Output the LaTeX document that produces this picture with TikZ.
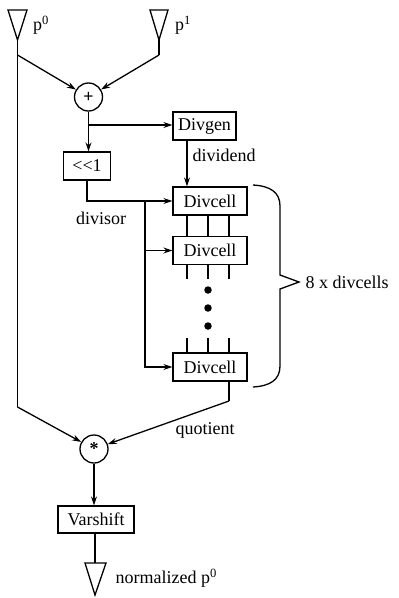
\documentclass[tikz,border=0pt]{standalone}
\usepackage{fontspec}
\setmainfont{Liberation Serif}
\usetikzlibrary{arrows.meta,calc}
\begin{document}
\begin{tikzpicture}[x=1pt,y=-1pt,
  line width=1.3pt,
  every node/.style={font=\fontsize{18}{21}\selectfont},
  box/.style={draw,inner sep=0pt,minimum height=28pt},
  ring/.style={draw,circle,inner sep=0pt,minimum size=28pt},
  arr/.style={-{Stealth[length=9pt,width=6pt]}},
  dotnode/.style={circle,fill,inner sep=0pt,minimum size=7.5pt},
  lbl/.style={inner sep=0pt}]
\useasboundingbox (0,0) rectangle (399,598);
% input triangles
\draw (8,10) -- (27,10) -- (17.5,40) -- cycle;
\draw (150,10) -- (168,10) -- (159,40) -- cycle;
\coordinate (p0) at (17.5,40);
\coordinate (p1) at (159,40);
\node[lbl] (lp0) at (41,25) {p\textsuperscript{0}};
\node[lbl] (lp1) at (183,25) {p\textsuperscript{1}};
\coordinate (s0) at (17.5,55);
\coordinate (s1) at (159,55);
% nodes
\node[ring] (plus) at (88.5,97) {\textbf{+}};
\node[box,minimum width=63pt] (divgen) at (204.5,126) {Divgen};
\node[box,minimum width=47pt] (shl) at (87,166) {<\kern0pt<\kern0pt1};
\node[box,minimum width=74pt] (cell1) at (210,201) {Divcell};
\node[box,minimum width=74pt] (cell2) at (210,250.5) {Divcell};
\node[box,minimum width=74pt] (cell3) at (210,367) {Divcell};
\node[ring] (star) at (94,449) {\textbf{*}};
\node[box,minimum width=76pt,minimum height=27pt] (varshift) at (96,519.5) {Varshift};
% output triangle
\draw (85,563) -- (106,563) -- (95,595) -- cycle;
\coordinate (ot) at (95,563);
\node[lbl,anchor=west] (lout) at (115,578) {normalized p\textsuperscript{0}};
% labels
\node[lbl,anchor=west] (ldiv) at (192,155) {dividend};
\node[lbl] (ldvs) at (101,218) {divisor};
\node[lbl] (lquo) at (205,430) {quotient};
\node[lbl,anchor=west] (lcnt) at (305,282) {8 x divcells};
% connectors top
\draw (p0) -- (s0);
\draw (p1) -- (s1);
\draw[arr] (s0) -- (plus);
\draw[arr] (s1) -- (plus);
\coordinate (j1) at (88.5,125);
\draw (plus) -- (j1);
\draw[arr] (j1) -- (j1 -| divgen.west);
\draw[arr] (j1) -- (j1 |- shl.north);
\coordinate (ca) at (187,0);
\draw[arr] (divgen.south -| ca) -- (cell1.north -| ca);
% divisor
\coordinate (jd) at (145,201);
\draw[arr] (shl.south) -- (shl.south |- cell1.west) -- (cell1.west);
\draw[arr] (jd) |- (cell3.west);
\draw[arr] (jd |- cell2.west) -- (cell2.west);
% stubs
\foreach \d in {-23,-2,19} {
  \draw ([xshift=\d pt]cell1.south) -- ([xshift=\d pt]cell2.north);
  \draw ([xshift=\d pt]cell2.south) -- ++(0,14);
  \draw ([xshift=\d pt]cell3.north) -- ++(0,-14);
}
\node[dotnode] (d1) at (208,290) {};
\node[dotnode] (d2) at (208,308) {};
\node[dotnode] (d3) at (208,326) {};
% brace
\draw (253,185) .. controls (270,186) and (280,192) .. (280,206) -- (280,275) -- (299,282) -- (280,289) -- (280,366) .. controls (280,380) and (270,386) .. (253,387);
% bottom
\coordinate (q1) at (229,401);
\coordinate (p0b) at (17.5,407);
\draw (s0) -- (p0b);
\draw[arr] (p0b) -- (star);
\draw (cell3.south -| q1) -- (q1);
\draw[arr] (q1) -- (star);
\draw[arr] (star) -- (star |- varshift.north);
\draw (varshift.south -| ot) -- (ot);
\end{tikzpicture}
\end{document}
